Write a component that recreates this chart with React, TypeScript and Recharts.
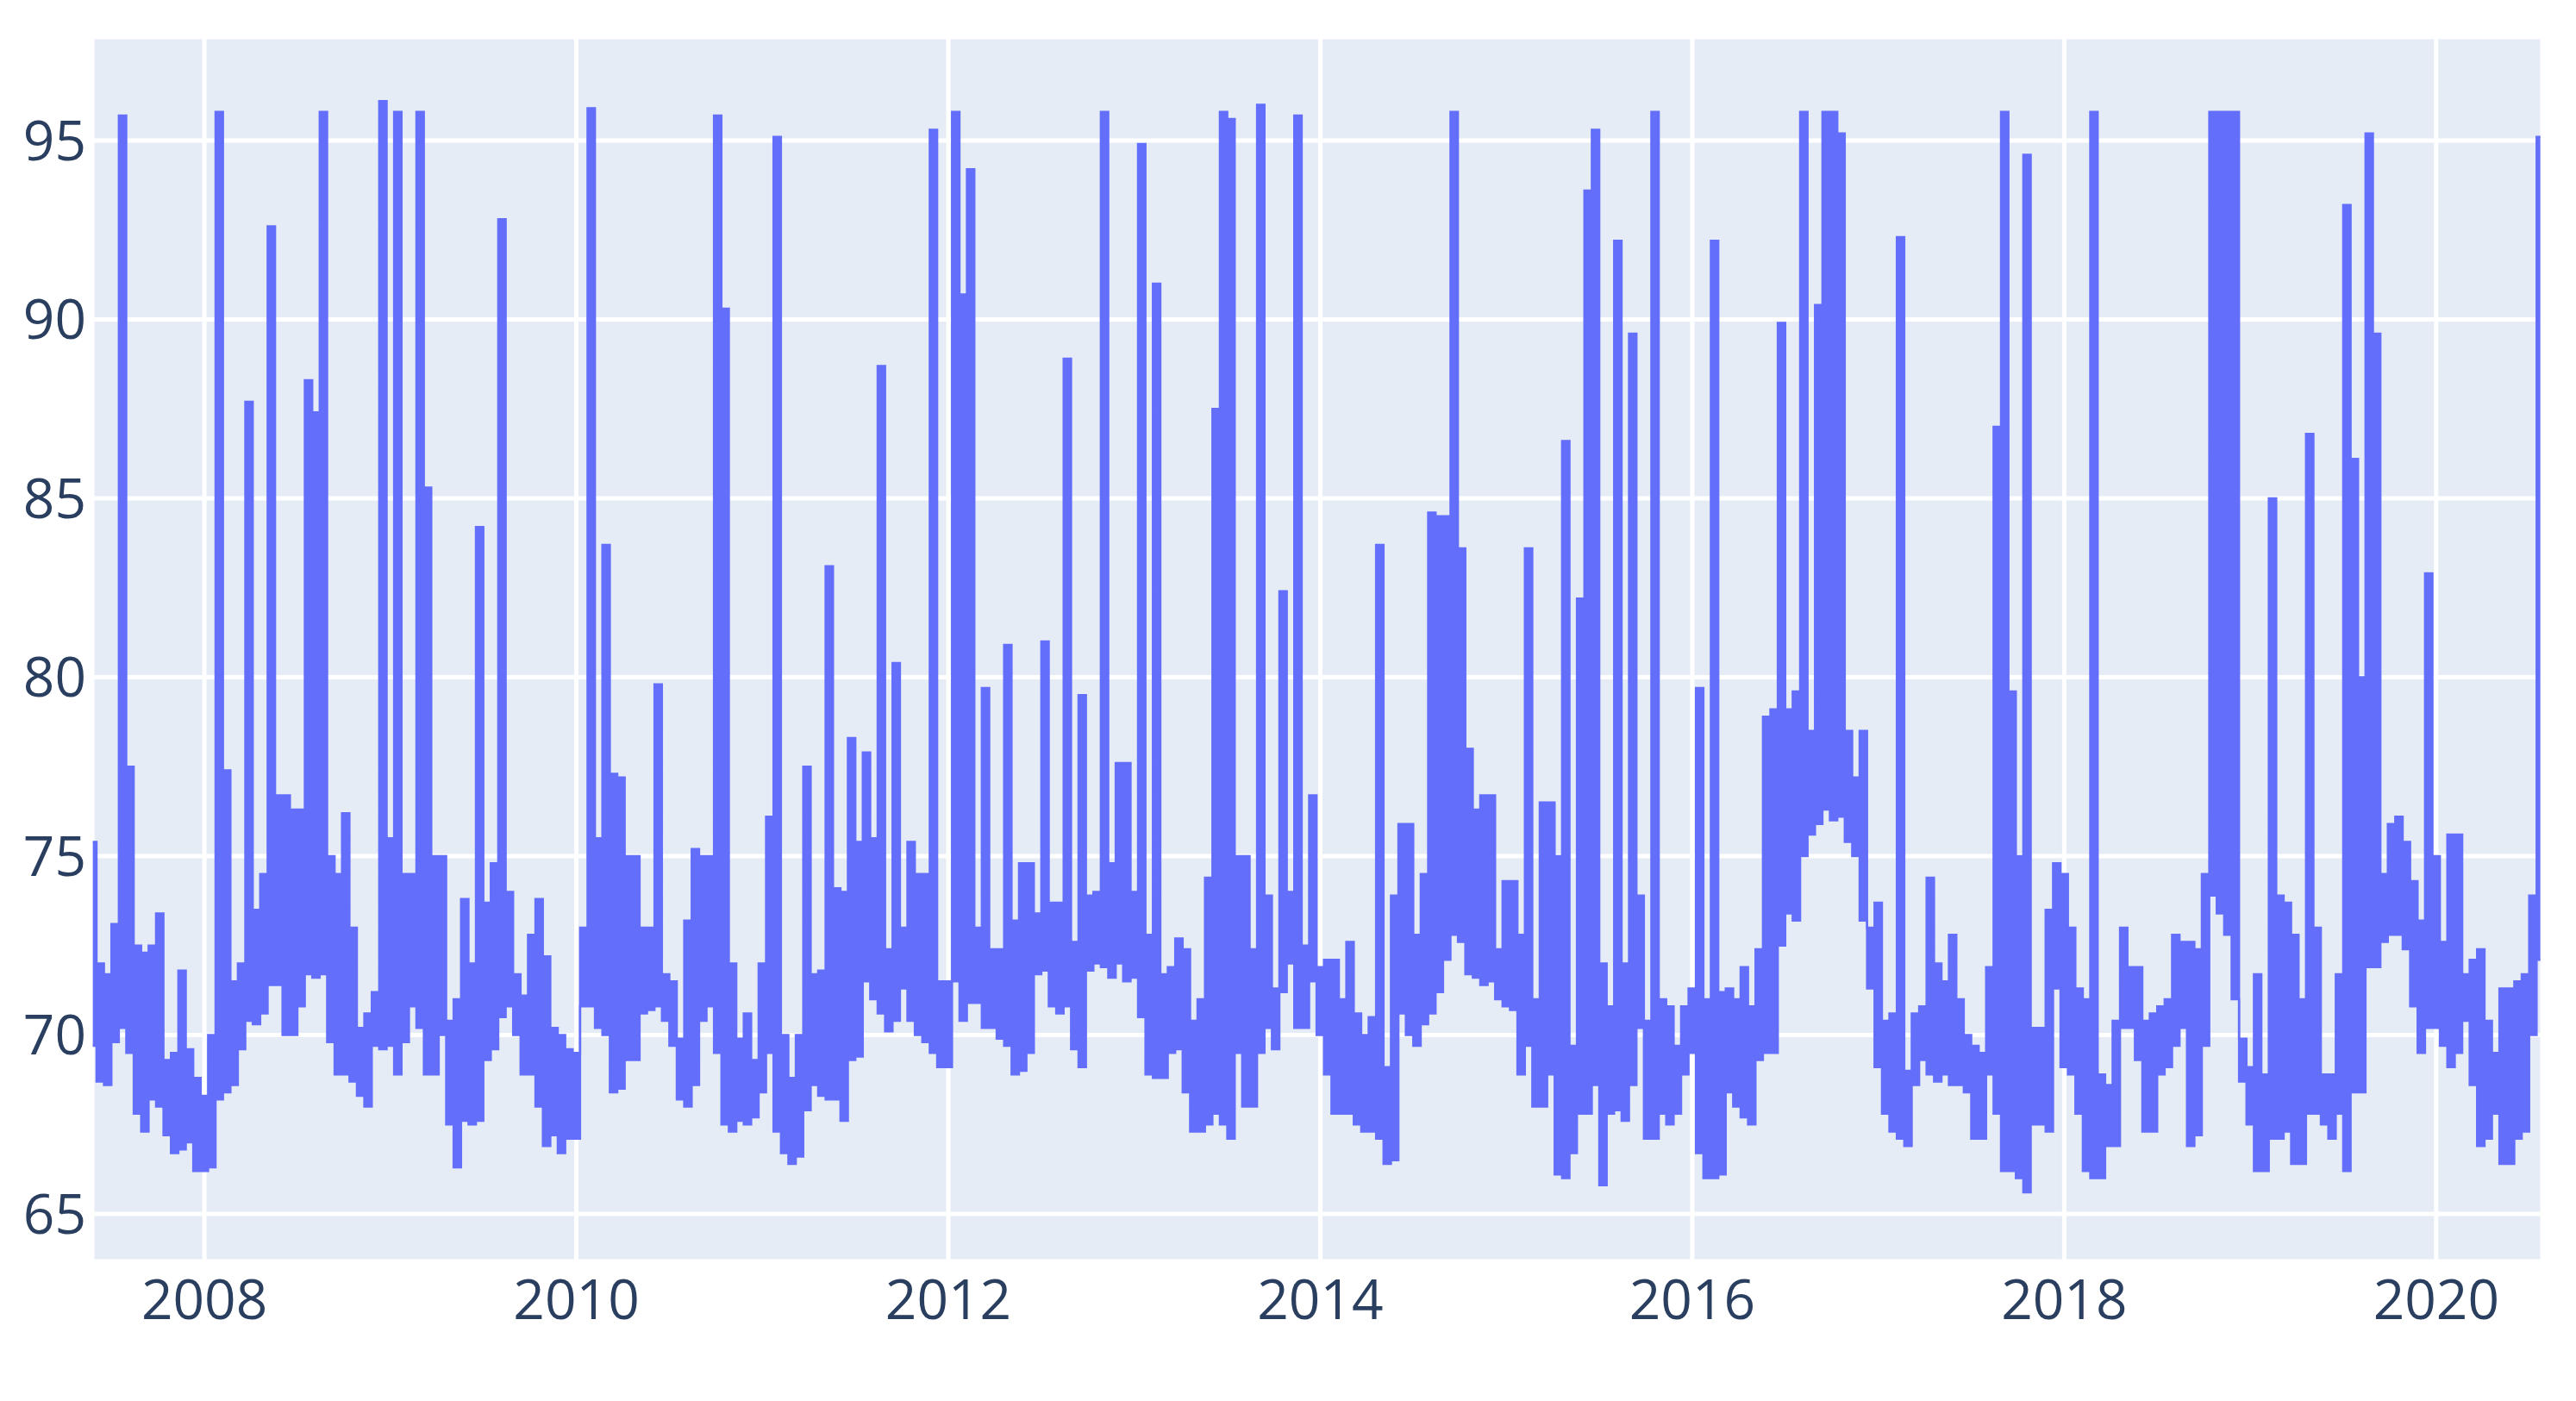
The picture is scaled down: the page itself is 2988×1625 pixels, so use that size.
import { ComposedChart, Area, XAxis, YAxis, CartesianGrid } from "recharts";

// one reading every 0.04 year; each reading keeps the low and high edge of the trace
const STEP = 0.04;

const hi2007 = [75.4, 72.0, 71.7, 73.1, 95.7, 77.5, 72.5, 72.3, 72.5, 73.4, 69.3, 69.5, 71.8, 69.6, 68.8];
const lo2007 = [69.7, 68.7, 68.6, 69.8, 70.2, 69.5, 67.8, 67.3, 68.2, 68.0, 67.2, 66.7, 66.8, 67.0, 66.2];

const hi2008 = [68.3, 70.0, 95.8, 77.4, 71.5, 72.0, 87.7, 73.5, 74.5, 92.6, 76.7, 76.7, 76.3, 76.3, 88.3, 87.4, 95.8, 75.0, 74.5, 76.2, 73.0, 70.2, 70.6, 71.2, 96.1];
const lo2008 = [66.2, 66.3, 68.2, 68.4, 68.6, 69.6, 70.4, 70.3, 70.6, 71.4, 71.4, 70.0, 70.0, 70.8, 71.7, 71.6, 71.7, 69.8, 68.9, 68.9, 68.7, 68.3, 68.0, 69.7, 69.6];

const hi2009 = [75.5, 95.8, 74.5, 74.5, 95.8, 85.3, 75.0, 75.0, 70.4, 71.0, 73.8, 72.0, 84.2, 73.7, 74.8, 92.8, 74.0, 71.7, 71.1, 72.8, 73.8, 72.2, 70.2, 70.0, 69.6];
const lo2009 = [69.7, 68.9, 69.8, 70.8, 70.2, 68.9, 68.9, 70.0, 67.5, 66.3, 67.6, 67.5, 67.6, 69.3, 69.6, 70.5, 70.8, 70.0, 68.9, 68.9, 68.0, 66.9, 67.2, 66.7, 67.1];

const hi2010 = [69.5, 73.0, 95.9, 75.5, 83.7, 77.3, 77.2, 75.0, 75.0, 73.0, 73.0, 79.8, 71.7, 71.5, 69.9, 73.2, 75.2, 75.0, 75.0, 95.7, 90.3, 72.0, 69.9, 70.6, 69.3];
const lo2010 = [67.1, 70.8, 70.8, 70.2, 70.0, 68.4, 68.5, 69.3, 69.3, 70.6, 70.7, 70.8, 70.4, 69.7, 68.2, 68.0, 68.6, 70.4, 70.8, 69.5, 67.5, 67.3, 67.6, 67.5, 67.7];

const hi2011 = [72.0, 76.1, 95.1, 70.0, 68.8, 70.0, 77.5, 71.7, 71.8, 83.1, 74.1, 74.0, 78.3, 75.4, 77.9, 75.5, 88.7, 72.4, 80.4, 73.0, 75.4, 74.5, 74.5, 95.3, 71.5];
const lo2011 = [68.4, 69.5, 67.3, 66.7, 66.4, 66.6, 67.9, 68.6, 68.3, 68.2, 68.2, 67.6, 69.3, 69.4, 71.5, 71.0, 70.6, 70.1, 70.4, 71.3, 70.4, 70.0, 69.8, 69.5, 69.1];

const hi2012 = [71.5, 95.8, 90.7, 94.2, 73.0, 79.7, 72.4, 72.4, 80.9, 73.2, 74.8, 74.8, 73.4, 81.0, 73.7, 73.7, 88.9, 72.6, 79.5, 73.9, 74.0, 95.8, 74.8, 77.6, 77.6];
const lo2012 = [69.1, 71.5, 70.4, 70.9, 70.9, 70.2, 70.2, 69.9, 69.7, 68.9, 69.0, 69.5, 71.7, 71.8, 70.8, 70.6, 70.8, 69.6, 69.1, 71.8, 72.0, 71.9, 71.6, 72.0, 71.5];

const hi2013 = [74.0, 94.9, 72.8, 91.0, 71.7, 71.9, 72.7, 72.4, 70.4, 71.0, 74.4, 87.5, 95.8, 95.6, 75.0, 75.0, 72.4, 96.0, 73.9, 71.3, 82.4, 74.0, 95.7, 72.5, 76.7];
const lo2013 = [71.6, 70.5, 68.9, 68.8, 68.8, 69.5, 69.6, 68.4, 67.3, 67.3, 67.5, 67.8, 67.5, 67.1, 69.5, 68.0, 68.0, 69.5, 70.2, 69.6, 71.2, 72.0, 70.2, 70.2, 71.5];

const hi2014 = [71.9, 72.1, 72.1, 71.0, 72.6, 70.6, 70.0, 70.5, 83.7, 69.1, 73.9, 75.9, 75.9, 72.8, 74.5, 84.6, 84.5, 84.5, 95.8, 83.6, 78.0, 76.3, 76.7, 76.7, 72.4];
const lo2014 = [70.0, 68.9, 67.8, 67.8, 67.8, 67.5, 67.3, 67.3, 67.1, 66.4, 66.5, 70.6, 70.0, 69.7, 70.3, 70.6, 71.2, 72.1, 72.8, 72.6, 71.7, 71.6, 71.4, 71.5, 71.0];

const hi2015 = [74.3, 74.3, 72.8, 83.6, 71.0, 76.5, 76.5, 75.0, 86.6, 69.7, 82.2, 93.6, 95.3, 72.0, 70.8, 92.2, 72.0, 89.6, 73.9, 70.4, 95.8, 71.0, 70.8, 69.7, 70.8];
const lo2015 = [70.8, 70.7, 68.9, 69.7, 68.0, 68.0, 68.9, 66.1, 66.0, 66.7, 67.8, 67.8, 68.6, 65.8, 67.8, 67.9, 67.6, 68.6, 70.2, 67.1, 67.1, 67.8, 67.5, 67.8, 68.9];

const hi2016 = [71.3, 79.7, 71.0, 92.2, 71.2, 71.3, 71.0, 71.9, 70.8, 72.4, 78.9, 79.1, 89.9, 79.1, 79.6, 95.8, 78.5, 90.4, 95.8, 95.8, 95.2, 78.5, 77.2, 78.5, 73.0];
const lo2016 = [69.5, 66.7, 66.0, 66.0, 66.1, 68.4, 68.0, 67.7, 67.5, 69.3, 69.5, 69.5, 72.5, 73.4, 73.2, 75.0, 75.6, 75.9, 76.3, 76.0, 76.1, 75.4, 75.0, 73.2, 71.3];

const hi2017 = [73.7, 70.4, 70.6, 92.3, 69.0, 70.6, 70.8, 74.4, 72.0, 71.5, 72.8, 71.0, 70.0, 69.7, 69.5, 71.9, 87.0, 95.8, 79.6, 75.0, 94.6, 70.2, 70.2, 73.5, 74.8];
const lo2017 = [69.1, 67.8, 67.3, 67.1, 66.9, 68.6, 69.3, 68.9, 68.7, 68.9, 68.6, 68.6, 68.4, 67.1, 67.1, 68.9, 67.8, 66.2, 66.2, 66.0, 65.6, 67.5, 67.5, 67.3, 71.3];

const hi2018 = [74.5, 73.0, 71.3, 71.0, 95.8, 68.9, 68.6, 70.4, 73.0, 71.9, 71.9, 70.4, 70.6, 70.8, 71.0, 72.8, 72.6, 72.6, 72.4, 74.5, 95.8, 95.8, 95.8, 95.8, 69.9];
const lo2018 = [69.1, 68.9, 67.8, 66.2, 66.0, 66.0, 66.9, 66.9, 70.2, 70.2, 69.3, 67.3, 67.3, 68.9, 69.1, 69.7, 70.2, 66.9, 67.2, 69.7, 73.9, 73.4, 72.8, 71.0, 68.7];

const hi2019 = [69.1, 71.7, 68.9, 85.0, 73.9, 73.7, 72.8, 71.0, 86.8, 73.0, 68.9, 68.9, 71.7, 93.2, 86.1, 80.0, 95.2, 89.6, 74.5, 75.9, 76.1, 75.4, 74.3, 73.2, 82.9];
const lo2019 = [67.5, 66.2, 66.2, 67.1, 67.1, 67.3, 66.4, 66.4, 67.8, 67.8, 67.5, 67.1, 67.8, 66.2, 68.4, 68.4, 71.9, 71.9, 72.6, 72.8, 72.8, 72.4, 70.8, 69.5, 70.2];

const hi2020 = [75.0, 72.6, 75.6, 75.6, 71.7, 72.1, 72.4, 70.4, 69.5, 71.3, 71.3, 71.5, 71.7, 73.9, 95.1];
const lo2020 = [70.2, 69.7, 69.1, 69.5, 70.4, 68.6, 66.9, 67.1, 67.8, 66.4, 66.4, 67.1, 67.3, 70.0, 72.1];

const blocks: [number, number[], number[]][] = [
  [2007.4, lo2007, hi2007],
  [2008, lo2008, hi2008],
  [2009, lo2009, hi2009],
  [2010, lo2010, hi2010],
  [2011, lo2011, hi2011],
  [2012, lo2012, hi2012],
  [2013, lo2013, hi2013],
  [2014, lo2014, hi2014],
  [2015, lo2015, hi2015],
  [2016, lo2016, hi2016],
  [2017, lo2017, hi2017],
  [2018, lo2018, hi2018],
  [2019, lo2019, hi2019],
  [2020, lo2020, hi2020],
];

const xTicks = [2008, 2010, 2012, 2014, 2016, 2018, 2020];
const yTicks = [65, 70, 75, 80, 85, 90, 95];

const data = blocks.flatMap(([start, lo, hi]) =>
  hi.map((h, i) => ({ t: +(start + i * STEP).toFixed(2), range: [lo[i], h] }))
);

const tickStyle = { fill: "#2a3f5f", fontSize: 64, fontFamily: "'Open Sans', sans-serif" };

export default function App() {
  return (
    <div style={{ position: "absolute", left: 0, top: 0, width: 2988, height: 1625, background: "#fff" }}>
      <ComposedChart
        width={2988}
        height={1625}
        data={data}
        margin={{ top: 43, right: 39, bottom: 0, left: 0 }}
      >
        <CartesianGrid fill="#E5ECF6" stroke="#ffffff" strokeWidth={5} fillOpacity={1} />
        <XAxis
          type="number"
          dataKey="t"
          domain={[2007.397, 2020.571]}
          ticks={xTicks}
          allowDataOverflow
          axisLine={false}
          tickLine={false}
          tickSize={0}
          tickMargin={22}
          height={162}
          tick={tickStyle}
        />
        <YAxis
          type="number"
          domain={[63.675, 97.89]}
          ticks={yTicks}
          allowDataOverflow
          axisLine={false}
          tickLine={false}
          tickSize={0}
          tickMargin={7}
          width={107}
          tick={tickStyle}
        />
        {/* trace drawn as its low/high envelope */}
        <Area
          type="step"
          dataKey="range"
          stroke="#636EFA"
          strokeWidth={2.5}
          fill="#636EFA"
          fillOpacity={1}
          dot={false}
          activeDot={false}
          isAnimationActive={false}
        />
      </ComposedChart>
    </div>
  );
}
